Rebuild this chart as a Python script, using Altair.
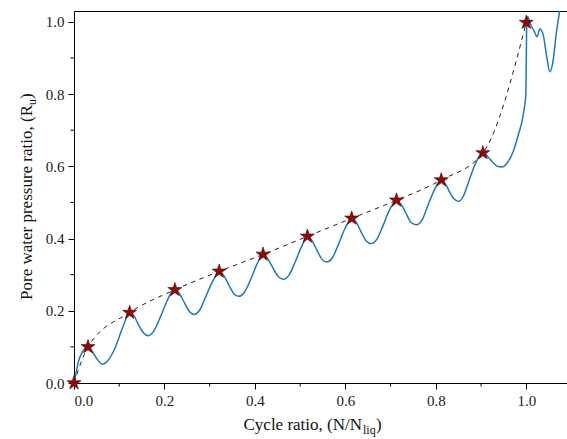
import altair as alt
import pandas as pd

# ---- data ----
ru_x = [0.0, 0.004, 0.010, 0.018, 0.030, 0.040, 0.050, 0.063, 0.075, 0.090, 0.105, 0.116, 0.123,
        0.133, 0.143, 0.153, 0.164, 0.176, 0.190, 0.205, 0.215, 0.223,
        0.233, 0.243, 0.254, 0.265, 0.277, 0.290, 0.305, 0.315, 0.321,
        0.331, 0.342, 0.353, 0.364, 0.376, 0.390, 0.403, 0.412, 0.418,
        0.428, 0.440, 0.452, 0.463, 0.475, 0.489, 0.502, 0.511, 0.516,
        0.526, 0.537, 0.548, 0.559, 0.571, 0.585, 0.598, 0.608, 0.614,
        0.624, 0.635, 0.646, 0.657, 0.669, 0.683, 0.696, 0.706, 0.713,
        0.723, 0.734, 0.745, 0.757, 0.769, 0.782, 0.795, 0.805, 0.812,
        0.821, 0.830, 0.840, 0.850, 0.860, 0.872, 0.885, 0.896, 0.904,
        0.914, 0.925, 0.936, 0.946, 0.958, 0.972, 0.983, 0.991, 0.996, 0.999, 1.000, 1.001, 1.003,
        1.009, 1.017, 1.024, 1.030, 1.037, 1.045, 1.052, 1.059, 1.066, 1.075]
ru_y = [0.000, 0.025, 0.060, 0.085, 0.100, 0.088, 0.068, 0.052, 0.062, 0.095, 0.145, 0.180, 0.195,
        0.185, 0.160, 0.140, 0.131, 0.143, 0.180, 0.225, 0.250, 0.258,
        0.248, 0.225, 0.200, 0.190, 0.200, 0.235, 0.278, 0.300, 0.309,
        0.298, 0.272, 0.248, 0.240, 0.250, 0.285, 0.325, 0.347, 0.356,
        0.345, 0.318, 0.294, 0.287, 0.298, 0.335, 0.375, 0.397, 0.406,
        0.395, 0.368, 0.343, 0.335, 0.346, 0.385, 0.425, 0.447, 0.456,
        0.445, 0.418, 0.393, 0.386, 0.397, 0.435, 0.475, 0.497, 0.506,
        0.495, 0.470, 0.445, 0.438, 0.450, 0.490, 0.530, 0.553, 0.562,
        0.552, 0.530, 0.510, 0.503, 0.515, 0.555, 0.600, 0.628, 0.637,
        0.628, 0.612, 0.600, 0.598, 0.610, 0.644, 0.690, 0.727, 0.765, 0.800, 0.900, 1.000, 1.015,
        0.994, 0.975, 0.959, 0.980, 0.966, 0.905, 0.862, 0.890, 0.965, 1.040]

star_x = [0.0, 0.031, 0.123, 0.223, 0.321, 0.418, 0.516, 0.614, 0.713, 0.812, 0.904, 1.0]
star_y = [0.0, 0.100, 0.195, 0.258, 0.309, 0.356, 0.406, 0.456, 0.506, 0.562, 0.637, 0.998]

x_major = [0.0, 0.2, 0.4, 0.6, 0.8, 1.0]
x_minor = [0.1, 0.3, 0.5, 0.7, 0.9]
y_major = [0.0, 0.2, 0.4, 0.6, 0.8, 1.0]
y_minor = [0.1, 0.3, 0.5, 0.7, 0.9]

x_title = ["Cycle ratio, (N/N", "liq", ")"]
y_title = ["Pore water pressure ratio, (R", "u", ")"]

ru = pd.DataFrame({"x": ru_x, "y": ru_y})
stars = pd.DataFrame({"x": star_x, "y": star_y})

W, H = 493, 372
FONT = "Liberation Serif"
xs = alt.Scale(domain=[0, 1.09], nice=False, zero=False)
ys = alt.Scale(domain=[0, 1.03], nice=False, zero=False)

major_x_axis = alt.Axis(values=x_major, format=".1f", tickSize=6, labelPadding=4,
                        title=None, grid=False, labelFont=FONT, labelFontSize=15, labelColor="#222")
major_y_axis = alt.Axis(values=y_major, format=".1f", tickSize=6, labelPadding=4,
                        title=None, grid=False, labelFont=FONT, labelFontSize=15, labelColor="#222")

blue = alt.Chart(ru).mark_line(color="#1f78b9", strokeWidth=1.5, clip=True,
                               interpolate="monotone").encode(
    x=alt.X("x:Q", scale=xs, axis=major_x_axis),
    y=alt.Y("y:Q", scale=ys, axis=major_y_axis),
)

dashed = alt.Chart(stars).mark_line(color="#222", strokeWidth=1, strokeDash=[4.5, 4.5],
                                    interpolate="monotone").encode(
    x=alt.X("x:Q", scale=xs),
    y=alt.Y("y:Q", scale=ys),
)

# minor ticks, positioned through the shared scales
minor_x = alt.Chart(pd.DataFrame({"v": x_minor})).mark_rule(color="black", strokeWidth=1).encode(
    x=alt.X("v:Q", scale=xs), y=alt.value(H), y2=alt.value(H + 3.5)
)
minor_y = alt.Chart(pd.DataFrame({"v": y_minor})).mark_rule(color="black", strokeWidth=1).encode(
    y=alt.Y("v:Q", scale=ys), x=alt.value(-3.5), x2=alt.value(0)
)

STAR = ("M0,-1L0.2245,-0.309L0.951,-0.309L0.363,0.118L0.588,0.809L0,0.382"
        "L-0.588,0.809L-0.363,0.118L-0.951,-0.309L-0.2245,-0.309Z")
pts = alt.Chart(stars).mark_point(shape=STAR, size=220, filled=True, fill="#8b0a0a",
                                  stroke="#5a0000", strokeWidth=0.6, opacity=1).encode(
    x=alt.X("x:Q", scale=xs),
    y=alt.Y("y:Q", scale=ys),
)

def txt(s, x, y, size, align, angle=0):
    return alt.Chart(pd.DataFrame({"t": [s]})).mark_text(
        font=FONT, fontSize=size, align=align, baseline="alphabetic", angle=angle, color="#111"
    ).encode(text="t:N", x=alt.value(x), y=alt.value(y))

titles = [
    txt(x_title[0], 288, 419, 17, "right"),
    txt(x_title[1], 289, 422.5, 12, "left"),
    txt(x_title[2], 302, 419, 17, "left"),
    txt(y_title[0], -42, 94, 17, "right", 270),
    txt(y_title[1], -38.5, 94, 12, "left", 270),
    txt(y_title[2], -42, 88, 17, "left", 270),
]

chart = alt.layer(blue, dashed, minor_x, minor_y, pts, *titles).properties(
    width=W, height=H,
    autosize=alt.AutoSizeParams(type="none"),
    padding={"left": 74, "top": 11, "right": 0, "bottom": 56},
    background="white",
).configure_view(stroke="black", strokeWidth=1).configure_axis(
    domainColor="black", tickColor="black", domainWidth=1, tickWidth=1
)

chart.save("out.html", embed_options={"renderer": "svg", "actions": False})
